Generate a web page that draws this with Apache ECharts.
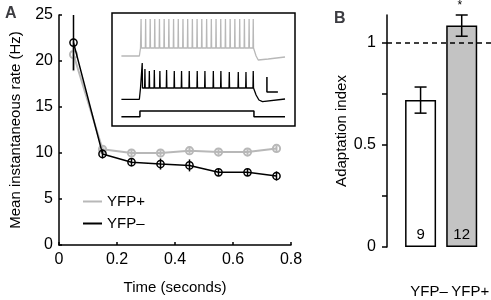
<!DOCTYPE html>
<html>
<head>
<meta charset="utf-8">
<script src="https://cdn.jsdelivr.net/npm/echarts@6/dist/echarts.min.js"></script>
<style>
  html, body { margin: 0; padding: 0; background: #fff; }
  #chart { width: 491px; height: 300px; }
</style>
</head>
<body>
<div id="chart"></div>
<script>
// panel A: mean instantaneous rate
const timeA = [0.05, 0.15, 0.25, 0.35, 0.45, 0.55, 0.65, 0.75];
const yfpPosMean = [20.7, 10.4, 10.0, 10.0, 10.25, 10.1, 10.1, 10.5];
const yfpPosErr = [1.8, 0.3, 0.3, 0.3, 0.3, 0.3, 0.3, 0.3];
const yfpNegMean = [22.0, 9.9, 9.0, 8.8, 8.65, 7.9, 7.9, 7.5];
const yfpNegErr = [3.0, 0.5, 0.45, 0.6, 0.65, 0.4, 0.4, 0.5];
const ticksX = [0, 0.2, 0.4, 0.6, 0.8];

// inset traces (time in ms, arbitrary stacked voltage units)
const greySpikes = [8, 40, 72, 104, 137, 170, 203, 236, 269, 302, 335, 368, 401,
  434, 468, 501, 534, 567, 600, 633, 666, 700, 733, 766, 795];
const blackSpikes = [16, 35, 66, 101, 140, 187, 241, 292, 346, 402, 456, 515, 568,
  627, 690, 744, 795];
const blackPeaks = [63, 57, 55, 56, 55, 56, 55, 55, 55, 55, 55, 55, 55, 54, 54, 54, 55];
const greyLevels = { rest: 70, plateau: 78, peak: 107 };
const greyTail = [[805, 78], [815, 70], [830, 66], [900, 67], [1018, 69]];
const blackLevels = { rest: 26.7, plateau: 38 };
const blackTail = [[805, 37], [815, 31], [835, 26], [860, 24.3], [1018, 27]];
const stimLevels = { rest: 9.3, step: 15 };
const stimOnOff = [0, 800];
const traceRange = [-130, 1018];
const scaleBar = [[891, 49], [891, 34], [968, 34]];

// panel B: adaptation index
const groups = ['YFP\u2013', 'YFP+'];
const adaptMean = [0.72, 1.085];
const adaptErr = [0.064, 0.052];
const cellCount = [9, 12];
const sigMark = ['', '*'];
const refLevel = 1;

const font = 'Liberation Sans, Arial, Helvetica, sans-serif';
const grey = '#b8b8b8';

function spikeTrace(spikes, rest, plateau, peaks, tail) {
  const pts = [[traceRange[0], rest], [stimOnOff[0] - 4, rest], [stimOnOff[0] + 4, plateau]];
  spikes.forEach(function (t, i) {
    const pk = Array.isArray(peaks) ? peaks[i] : peaks;
    pts.push([t - 2, plateau], [t, pk], [t + 2, plateau]);
  });
  return pts.concat(tail);
}

const greyTrace = spikeTrace(greySpikes, greyLevels.rest, greyLevels.plateau, greyLevels.peak, greyTail);
const blackTrace = spikeTrace(blackSpikes, blackLevels.rest, blackLevels.plateau, blackPeaks, blackTail);
const stimTrace = [
  [traceRange[0], stimLevels.rest], [stimOnOff[0], stimLevels.rest],
  [stimOnOff[0], stimLevels.step], [stimOnOff[1], stimLevels.step],
  [stimOnOff[1], stimLevels.rest], [traceRange[1], stimLevels.rest]
];

function errorSeries(name, means, errs, color, width, z) {
  return {
    type: 'custom',
    name: name + ' err',
    xAxisIndex: 0,
    yAxisIndex: 0,
    z: z,
    data: timeA.map(function (t, i) { return [t, means[i], errs[i]]; }),
    renderItem: function (params, api) {
      const x = api.value(0), m = api.value(1), e = api.value(2);
      const top = api.coord([x, m + e]);
      const bot = api.coord([x, m - e]);
      const c = api.coord([x, m]);
      const st = { stroke: color, lineWidth: width, fill: 'none' };
      return {
        type: 'group',
        children: [
          { type: 'line', shape: { x1: top[0], y1: top[1], x2: bot[0], y2: bot[1] }, style: st },
          { type: 'circle', shape: { cx: c[0], cy: c[1], r: 3.6 }, style: st }
        ]
      };
    }
  };
}

const chart = echarts.init(document.getElementById('chart'));

const option = {
  animation: false,
  backgroundColor: '#fff',
  textStyle: { fontFamily: font, color: '#000' },
  title: [
    { text: 'A', left: 0, top: 1, textStyle: { fontFamily: font, fontSize: 16, fontWeight: 'bold' } },
    { text: 'B', left: 329, top: 6, textStyle: { fontFamily: font, fontSize: 16, fontWeight: 'bold' } }
  ],
  legend: {
    data: [
      { name: 'YFP+', icon: 'rect', itemStyle: { color: grey } },
      { name: 'YFP\u2013', icon: 'rect', itemStyle: { color: '#000' } }
    ],
    orient: 'vertical',
    left: 78,
    top: 189,
    itemWidth: 19,
    itemHeight: 2,
    itemGap: 7,
    textStyle: { fontFamily: font, fontSize: 15, color: '#000' }
  },
  grid: [
    { left: 59, top: 15, width: 232, height: 232 },
    { left: 112, top: 13, width: 183, height: 113, show: true, borderColor: '#000', borderWidth: 1.5, backgroundColor: '#fff' },
    { left: 400, top: 15, width: 87, height: 232 },
    { left: 387, top: 15, width: 104, height: 232 }
  ],
  xAxis: [
    {
      type: 'value', gridIndex: 0, min: 0, max: 0.8, interval: 0.2,
      name: 'Time (seconds)', nameLocation: 'middle', nameGap: 35,
      nameTextStyle: { fontFamily: font, fontSize: 15, color: '#000' },
      axisLine: { lineStyle: { color: '#000', width: 1.5 } },
      axisTick: { inside: true, length: 3, lineStyle: { color: '#000', width: 1.5 } },
      axisLabel: { fontFamily: font, fontSize: 16, color: '#000', margin: 7, formatter: function (v) { return ticksX.indexOf(v) >= 0 ? String(v) : ''; } },
      splitLine: { show: false }
    },
    { type: 'value', gridIndex: 1, min: -196, max: 1088, show: false },
    {
      type: 'category', gridIndex: 2, data: groups,
      axisLine: { show: false }, axisTick: { show: false },
      axisLabel: { interval: 0, hideOverlap: false, fontFamily: font, fontSize: 15, color: '#000', margin: 37, padding: [0, 0, 0, 17] }
    },
    { type: 'value', gridIndex: 3, min: 0, max: 1, show: false }
  ],
  yAxis: [
    {
      type: 'value', gridIndex: 0, min: 0, max: 25, interval: 5,
      name: 'Mean instantaneous rate (Hz)', nameLocation: 'middle', nameGap: 36,
      nameTextStyle: { fontFamily: font, fontSize: 15, color: '#000' },
      axisLine: { show: true, lineStyle: { color: '#000', width: 1.5 } },
      axisTick: { show: true, inside: true, length: 3, lineStyle: { color: '#000', width: 1.5 } },
      axisLabel: { fontFamily: font, fontSize: 16, color: '#000', margin: 6 },
      splitLine: { show: false }
    },
    { type: 'value', gridIndex: 1, min: 0, max: 113, show: false },
    {
      type: 'value', gridIndex: 2, min: 0, max: 1.137, offset: 13,
      name: 'Adaptation index', nameLocation: 'middle', nameGap: 37,
      nameTextStyle: { fontFamily: font, fontSize: 15, color: '#000' },
      axisLine: { show: true, lineStyle: { color: '#000', width: 1.5 } },
      axisTick: { show: true, length: 5, customValues: [0, 0.25, 0.5, 0.75, 1], lineStyle: { color: '#000', width: 1.5 } },
      axisLabel: { fontFamily: font, fontSize: 16, color: '#000', margin: 11, customValues: [0, 0.5, 1] },
      splitLine: { show: false }
    },
    { type: 'value', gridIndex: 3, min: 0, max: 1.137, show: false }
  ],
  series: [
    {
      type: 'line', name: 'YFP+', xAxisIndex: 0, yAxisIndex: 0, z: 2,
      data: timeA.map(function (t, i) { return [t, yfpPosMean[i]]; }),
      symbol: 'none', color: grey, lineStyle: { color: grey, width: 2 }
    },
    errorSeries('YFP+', yfpPosMean, yfpPosErr, grey, 2, 3),
    {
      type: 'line', name: 'YFP\u2013', xAxisIndex: 0, yAxisIndex: 0, z: 4,
      data: timeA.map(function (t, i) { return [t, yfpNegMean[i]]; }),
      symbol: 'none', color: '#000', lineStyle: { color: '#000', width: 1.5 }
    },
    errorSeries('YFP\u2013', yfpNegMean, yfpNegErr, '#000', 1.5, 5),
    // inset traces
    { type: 'line', xAxisIndex: 1, yAxisIndex: 1, data: greyTrace, symbol: 'none', silent: true, lineStyle: { color: grey, width: 1.3 }, z: 6 },
    { type: 'line', xAxisIndex: 1, yAxisIndex: 1, data: blackTrace, symbol: 'none', silent: true, lineStyle: { color: '#000', width: 1.3 }, z: 6 },
    { type: 'line', xAxisIndex: 1, yAxisIndex: 1, data: stimTrace, symbol: 'none', silent: true, lineStyle: { color: '#000', width: 1.5 }, z: 6 },
    { type: 'line', xAxisIndex: 1, yAxisIndex: 1, data: scaleBar, symbol: 'none', silent: true, lineStyle: { color: '#000', width: 1.5 }, z: 6 },
    // panel B
    {
      type: 'bar', xAxisIndex: 2, yAxisIndex: 2, barWidth: 31,
      data: adaptMean.map(function (v, i) {
        return { value: v, itemStyle: { color: i === 0 ? '#fff' : '#c3c3c3', borderColor: '#000', borderWidth: 1.5 } };
      }),
      label: {
        show: true, position: 'insideBottom', distance: 5,
        fontFamily: font, fontSize: 15, color: '#000',
        formatter: function (p) { return String(cellCount[p.dataIndex]); }
      }
    },
    {
      type: 'custom', xAxisIndex: 2, yAxisIndex: 2, z: 5,
      data: adaptMean.map(function (v, i) { return [i, v, adaptErr[i]]; }),
      renderItem: function (params, api) {
        const x = api.value(0), m = api.value(1), e = api.value(2);
        const top = api.coord([x, m + e]);
        const bot = api.coord([x, m - e]);
        const st = { stroke: '#000', lineWidth: 1.5 };
        const w = 6;
        return {
          type: 'group',
          children: [
            { type: 'line', shape: { x1: top[0], y1: top[1], x2: bot[0], y2: bot[1] }, style: st },
            { type: 'line', shape: { x1: top[0] - w, y1: top[1], x2: top[0] + w, y2: top[1] }, style: st },
            { type: 'line', shape: { x1: bot[0] - w, y1: bot[1], x2: bot[0] + w, y2: bot[1] }, style: st },
            { type: 'text', style: { text: sigMark[params.dataIndex], x: top[0] - 2, y: top[1] - 9, align: 'center', verticalAlign: 'middle', fontFamily: font, fontSize: 12, fill: '#000' } }
          ]
        };
      }
    },
    {
      type: 'line', xAxisIndex: 3, yAxisIndex: 3, z: 6,
      data: [[0, refLevel], [1, refLevel]], symbol: 'none', silent: true,
      lineStyle: { color: '#000', width: 1.5, type: [5, 4] }
    }
  ]
};

chart.setOption(option);
</script>
</body>
</html>
